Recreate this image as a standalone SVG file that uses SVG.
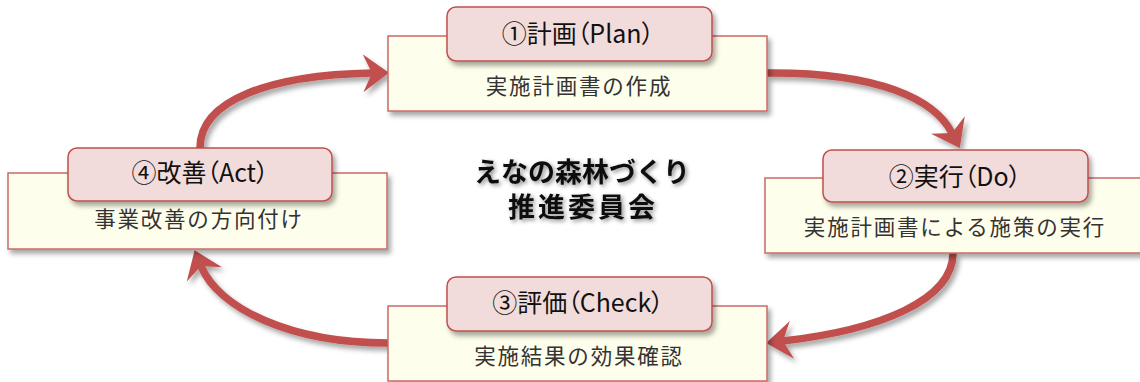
<svg xmlns="http://www.w3.org/2000/svg" width="1140" height="382" viewBox="0 0 1140 382">
<defs>
<filter id="sh" x="-10%" y="-10%" width="130%" height="140%">
<feDropShadow dx="3" dy="4" stdDeviation="2.5" flood-color="#000" flood-opacity="0.35"/>
</filter>
<filter id="tsh" x="-10%" y="-20%" width="130%" height="150%">
<feDropShadow dx="2" dy="2" stdDeviation="2" flood-color="#000" flood-opacity="0.45"/>
</filter>
<marker id="ah" markerUnits="userSpaceOnUse" markerWidth="40" markerHeight="44" viewBox="-10 -22 30 44" refX="0" refY="0" orient="auto">
<path d="M17,0 L-9,-19 L0,0 L-9,19 Z" fill="#c0504d"/>
</marker>
<style>
.box{fill:#fefeec;stroke:#cc6a67;stroke-width:1.5}
.tab{fill:#f2dcdb;stroke:#c0504d;stroke-width:1.5}
.title{font-family:"Noto Sans CJK JP","Noto Sans",sans-serif;font-size:25px;fill:#111;text-anchor:middle;font-feature-settings:"palt"}
.sub{font-family:"Noto Sans CJK JP","Noto Sans",sans-serif;font-size:21.5px;fill:#333;text-anchor:middle;letter-spacing:1.8px}
.arr{fill:none;stroke:#c0504d;stroke-width:7.5;marker-end:url(#ah)}
.ctr{font-family:"Noto Sans CJK JP",sans-serif;font-size:27px;font-weight:bold;fill:#111;text-anchor:middle}
</style>
</defs>
<g id="connectors" filter="url(#sh)">
<path class="arr" d="M767,73 C880,72 935,100 952,133"/>
<path class="arr" d="M953,253 C953,300 880,330 783,341"/>
<path class="arr" d="M388,343 C290,343 218,308 201,266"/>
<path class="arr" d="M200,148 C200,100 270,75 372,73"/>
</g>
<g id="node1">
<rect class="box" x="388" y="36" width="379" height="75" filter="url(#sh)"/>
<rect class="tab" x="447" y="7" width="265" height="54" rx="9" filter="url(#sh)"/>
<text class="title" x="578" y="43">①計画（Plan）</text>
<text class="sub" x="579" y="94">実施計画書の作成</text>
</g>
<g id="node2">
<rect class="box" x="765" y="178" width="380" height="75" filter="url(#sh)"/>
<rect class="tab" x="823" y="150" width="265" height="52" rx="9" filter="url(#sh)"/>
<text class="title" x="955" y="186">②実行（Do）</text>
<text class="sub" x="955" y="235">実施計画書による施策の実行</text>
</g>
<g id="node3">
<rect class="box" x="388" y="306" width="379" height="75" filter="url(#sh)"/>
<rect class="tab" x="447" y="277" width="265" height="54" rx="9" filter="url(#sh)"/>
<text class="title" x="578" y="312">③評価（Check）</text>
<text class="sub" x="579" y="364">実施結果の効果確認</text>
</g>
<g id="node4">
<rect class="box" x="8" y="173" width="379" height="76" filter="url(#sh)"/>
<rect class="tab" x="68" y="148" width="264" height="53" rx="9" filter="url(#sh)"/>
<text class="title" x="200" y="182">④改善（Act）</text>
<text class="sub" x="199" y="227">事業改善の方向付け</text>
</g>
<g id="center" filter="url(#tsh)">
<text class="ctr" x="582" y="182">えなの森林づくり</text>
<text class="ctr" x="583" y="217" letter-spacing="3">推進委員会</text>
</g>
</svg>
